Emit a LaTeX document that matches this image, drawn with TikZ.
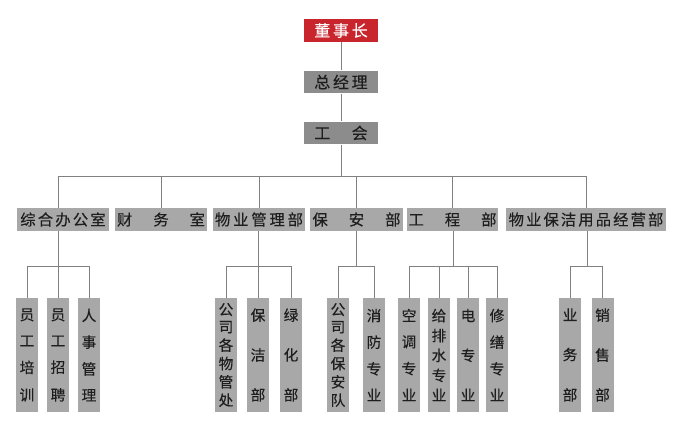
\documentclass[tikz,border=0pt]{standalone}
\usepackage{fontspec}
\setmainfont{Noto Sans CJK SC}[FakeBold=0.3]
\usepackage{tikz}
\usetikzlibrary{positioning}

\definecolor{boardred}{HTML}{C9252C}
\definecolor{headgray}{HTML}{8C8C8C}
\definecolor{deptgray}{HTML}{A8A8A8}
\definecolor{linkgray}{HTML}{808080}
\definecolor{inkgray}{HTML}{1E1E1E}

\newcommand\spreadchars[2]{\makebox[#1][s]{\foreach \c [count=\i] in {#2}{\ifnum\i>1 \hfill\fi\c}}}
\newcommand\stackchars[2][69pt]{\vbox to #1{\baselineskip=0pt\lineskip=0pt\lineskiplimit=0pt
  \foreach \c [count=\i] in {#2}{\ifnum\i>1 \vfill\fi\hbox{\c}}}}

\begin{document}
\begin{tikzpicture}[x=0.75pt,y=-0.75pt
   ,top/.style={fill=headgray,text=inkgray,minimum width=55.5pt,minimum height=17pt
               ,inner sep=0pt,font=\fontsize{12}{14}\selectfont}
   ,dept/.style={fill=deptgray,text=inkgray,minimum width=69pt,minimum height=17pt
               ,inner sep=0pt,font=\fontsize{11.5}{13}\selectfont}
   ,unit/.style={fill=deptgray,text=inkgray,minimum width=16.5pt,minimum height=85.5pt
               ,inner sep=0pt,font=\fontsize{11}{13}\selectfont}
   ,link/.style={draw=linkgray,line width=0.75pt}
   ,elbow/.style={to path={-| (\tikztotarget)}}]
\useasboundingbox (0,0) rectangle (680,436);

\node[top,fill=boardred,text=white] (dsz) at (341,30.5) {\spreadchars{40pt}{董,事,长}};
\node[top] (zjl) at (341,82) {\spreadchars{40pt}{总,经,理}};
\node[top] (gh) at (341,133) {\spreadchars{40pt}{工,会}};

\node[dept] (zh) at (63,219.5) {\spreadchars{64pt}{综,合,办,公,室}};
\node[dept] (cw) at (161,219.5) {\spreadchars{66pt}{财,务,室}};
\node[dept] (wy) at (259,219.5) {\spreadchars{66pt}{物,业,管,理,部}};
\node[dept,minimum width=70pt] (ba) at (356.5,219.5) {\spreadchars{66pt}{保,安,部}};
\node[dept,minimum width=68pt] (gc) at (452.5,219.5) {\spreadchars{66pt}{工,程,部}};
\node[dept,minimum width=120pt] (yp) at (586,219.5) {\spreadchars{116pt}{物,业,保,洁,用,品,经,营,部}};

\node[unit] (pxun) at (27,355) {\stackchars{员,工,培,训}};
\node[unit] (zpin) at (58,355) {\stackchars{员,工,招,聘}};
\node[unit] (rsgl) at (89,355) {\stackchars{人,事,管,理}};
\node[unit] (wgch) at (226,355) {\stackchars[77pt]{公,司,各,物,管,处}};
\node[unit] (bjie) at (258,355) {\stackchars{保,洁,部}};
\node[unit] (lhua) at (291,355) {\stackchars{绿,化,部}};
\node[unit] (badu) at (338,355) {\stackchars[77pt]{公,司,各,保,安,队}};
\node[unit] (xfzy) at (374,355) {\stackchars{消,防,专,业}};
\node[unit] (ktzy) at (409,355) {\stackchars{空,调,专,业}};
\node[unit] (gpsz) at (439,355) {\stackchars{给,排,水,专,业}};
\node[unit] (dzye) at (468,355) {\stackchars{电,专,业}};
\node[unit] (xszy) at (497,355) {\stackchars{修,缮,专,业}};
\node[unit] (ywbu) at (570,355) {\stackchars{业,务,部}};
\node[unit] (xsbu) at (602.5,355) {\stackchars{销,售,部}};

\coordinate (bus) at (341,176);
\coordinate (zhb) at (58,266);
\coordinate (wyb) at (258,266);
\coordinate (bab) at (356,266);
\coordinate (gcb) at (453,266);
\coordinate (ypb) at (587,266);

\path[link]
  (dsz) edge (zjl)
  (zjl) edge (gh)
  (gh) edge (bus)
  (bus) edge[elbow] (zh.north -| zpin.north)
  (bus) edge[elbow] (cw.north)
  (bus) edge[elbow] (wy.north)
  (bus) edge[elbow] (ba.north)
  (bus) edge[elbow] (gc.north)
  (bus) edge[elbow] (yp.north)
  ;
\path[link]
  (zh.south -| zhb) edge (zhb)
  (wy.south -| wyb) edge (wyb)
  (ba.south -| bab) edge (bab)
  (gc.south -| gcb) edge (gcb)
  (yp.south -| ypb) edge (ypb)
  ;
\foreach \u in {pxun,zpin,rsgl} \draw[link] (zhb) -| (\u.north);
\foreach \u in {wgch,bjie,lhua} \draw[link] (wyb) -| (\u.north);
\foreach \u in {badu,xfzy} \draw[link] (bab) -| (\u.north);
\foreach \u in {ktzy,gpsz,dzye,xszy} \draw[link] (gcb) -| (\u.north);
\foreach \u in {ywbu,xsbu} \draw[link] (ypb) -| (\u.north);
\end{tikzpicture}
\end{document}
